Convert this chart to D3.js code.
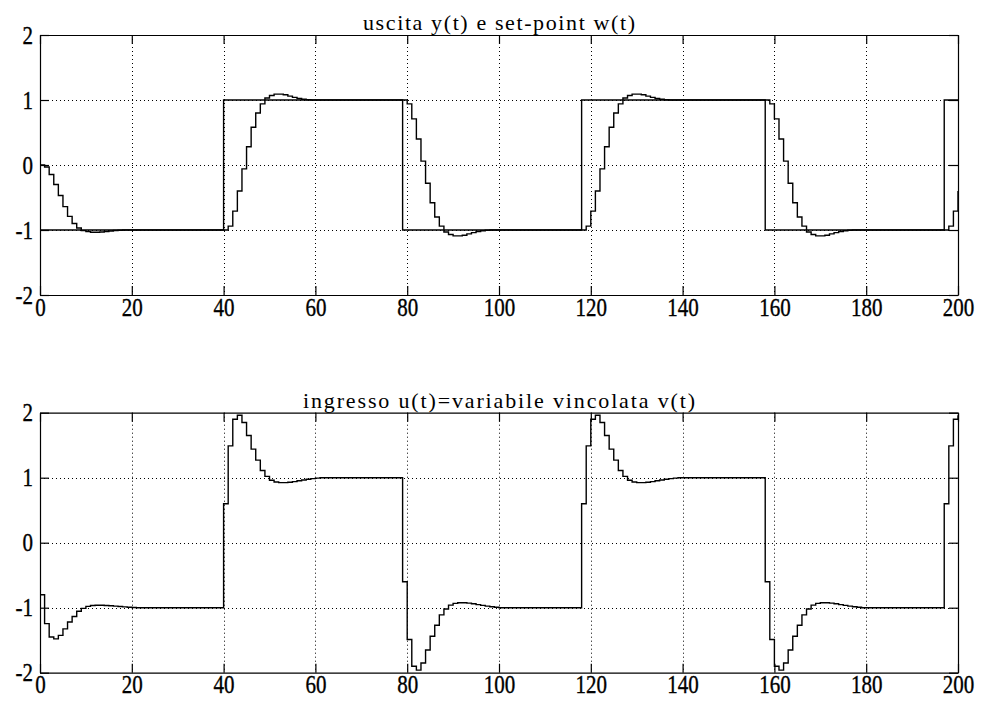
<!DOCTYPE html>
<html>
<head>
<meta charset="utf-8">
<script src="https://cdn.jsdelivr.net/npm/d3@7"></script>
<style>
body { margin: 0; background: #fff; }
</style>
</head>
<body>
<svg width="981" height="702"></svg>
<script>
// sample index k = 0..200 (sample time 1)
var time = d3.range(0, 201);

// set-point w(t)
var setPoint = [
 -1,-1,-1,-1,-1,-1,-1,-1,-1,-1,-1,-1,-1,-1,-1,-1,-1,-1,-1,-1,
 -1,-1,-1,-1,-1,-1,-1,-1,-1,-1,-1,-1,-1,-1,-1,-1,-1,-1,-1,-1,
 1,1,1,1,1,1,1,1,1,1,1,1,1,1,1,1,1,1,1,1,
 1,1,1,1,1,1,1,1,1,1,1,1,1,1,1,1,1,1,1,
 -1,-1,-1,-1,-1,-1,-1,-1,-1,-1,-1,-1,-1,-1,-1,-1,-1,-1,-1,-1,
 -1,-1,-1,-1,-1,-1,-1,-1,-1,-1,-1,-1,-1,-1,-1,-1,-1,-1,-1,
 1,1,1,1,1,1,1,1,1,1,1,1,1,1,1,1,1,1,1,1,
 1,1,1,1,1,1,1,1,1,1,1,1,1,1,1,1,1,1,1,1,
 -1,-1,-1,-1,-1,-1,-1,-1,-1,-1,-1,-1,-1,-1,-1,-1,-1,-1,-1,-1,
 -1,-1,-1,-1,-1,-1,-1,-1,-1,-1,-1,-1,-1,-1,-1,-1,-1,-1,-1,
 1,1,1,1
];

// uscita y(t)
var output = [
 0,-0.03,-0.145,-0.3,-0.47,-0.64,-0.79,-0.9,-0.97,-1.01,-1.025,-1.035,-1.035,-1.03,-1.022,-1.015,-1.008,-1.004,-1.001,-1,
 -1,-1,-1,-1,-1,-1,-1,-1,-1,-1,-1,-1,-1,-1,-1,-1,-1,-1,-1,-1,
 -1,-0.94,-0.71,-0.4,-0.06,0.28,0.58,0.8,0.94,1.03,1.07,1.09,1.09,1.08,1.06,1.04,1.024,1.012,1.004,
 1,1,1,1,1,1,1,1,1,1,1,1,1,1,1,1,1,1,1,1,
 1,0.94,0.71,0.4,0.06,-0.28,-0.58,-0.8,-0.94,-1.03,-1.07,-1.09,-1.09,-1.08,-1.06,-1.04,-1.024,-1.012,-1.004,
 -1,-1,-1,-1,-1,-1,-1,-1,-1,-1,-1,-1,-1,-1,-1,-1,-1,-1,-1,-1,
 -1,-0.94,-0.71,-0.4,-0.06,0.28,0.58,0.8,0.94,1.03,1.07,1.09,1.09,1.08,1.06,1.04,1.024,1.012,1.004,
 1,1,1,1,1,1,1,1,1,1,1,1,1,1,1,1,1,1,1,1,1,
 1,0.94,0.71,0.4,0.06,-0.28,-0.58,-0.8,-0.94,-1.03,-1.07,-1.09,-1.09,-1.08,-1.06,-1.04,-1.024,-1.012,-1.004,
 -1,-1,-1,-1,-1,-1,-1,-1,-1,-1,-1,-1,-1,-1,-1,-1,-1,-1,-1,-1,
 -1,-0.94,-0.71,-0.4
];

// ingresso u(t)
var input = [
 -0.8,-1.245,-1.45,-1.48,-1.425,-1.325,-1.22,-1.135,-1.055,-1.01,-0.98,-0.967,-0.962,-0.962,-0.965,-0.97,-0.976,-0.982,-0.988,-0.993,-0.997,
 -1,-1,-1,-1,-1,-1,-1,-1,-1,-1,-1,-1,-1,-1,-1,-1,-1,-1,-1,
 0.6,1.49,1.9,1.96,1.85,1.65,1.44,1.27,1.11,1.02,0.96,0.934,0.924,0.924,0.93,0.94,0.952,0.964,0.976,0.986,0.994,
 1,1,1,1,1,1,1,1,1,1,1,1,1,1,1,1,1,1,
 -0.6,-1.49,-1.9,-1.96,-1.85,-1.65,-1.44,-1.27,-1.11,-1.02,-0.96,-0.934,-0.924,-0.924,-0.93,-0.94,-0.952,-0.964,-0.976,-0.986,-0.994,
 -1,-1,-1,-1,-1,-1,-1,-1,-1,-1,-1,-1,-1,-1,-1,-1,-1,-1,
 0.6,1.49,1.9,1.96,1.85,1.65,1.44,1.27,1.11,1.02,0.96,0.934,0.924,0.924,0.93,0.94,0.952,0.964,0.976,0.986,0.994,
 1,1,1,1,1,1,1,1,1,1,1,1,1,1,1,1,1,1,1,
 -0.6,-1.49,-1.9,-1.96,-1.85,-1.65,-1.44,-1.27,-1.11,-1.02,-0.96,-0.934,-0.924,-0.924,-0.93,-0.94,-0.952,-0.964,-0.976,-0.986,-0.994,
 -1,-1,-1,-1,-1,-1,-1,-1,-1,-1,-1,-1,-1,-1,-1,-1,-1,-1,
 0.6,1.49,1.9,1.96
];

var titles = ["uscita y(t) e set-point w(t)", "ingresso u(t)=variabile vincolata v(t)"];
var xTicks = [0, 20, 40, 60, 80, 100, 120, 140, 160, 180, 200];
var yTicks = [-2, -1, 0, 1, 2];

var serif = "Liberation Serif, Times New Roman, serif";
var svg = d3.select("svg");

var x = d3.scaleLinear().domain([0, 200]).range([40, 958]);

var panels = [
	{title: titles[0], top: 35, bottom: 295, titleY: 30, titleW: 272, series: [setPoint, output]},
	{title: titles[1], top: 412.7, bottom: 672.7, titleY: 407.5, titleW: 392, series: [input]}
];

panels.forEach(function(p) {
	var y = d3.scaleLinear().domain([-2, 2]).range([p.bottom, p.top]);
	var g = svg.append("g");

	// dotted grid
	var grid = g.append("g")
		.attr("stroke", "#000")
		.attr("stroke-width", 1)
		.attr("stroke-dasharray", "1,3");
	grid.selectAll("line.vx")
		.data(xTicks.slice(1, -1))
		.enter().append("line")
		.attr("x1", function(d) { return Math.round(x(d)) + 0.5; })
		.attr("x2", function(d) { return Math.round(x(d)) + 0.5; })
		.attr("y1", p.top)
		.attr("y2", p.bottom);
	grid.selectAll("line.hy")
		.data(yTicks.slice(1, -1))
		.enter().append("line")
		.attr("y1", function(d) { return Math.round(y(d)) + 0.5; })
		.attr("y2", function(d) { return Math.round(y(d)) + 0.5; })
		.attr("x1", x(0))
		.attr("x2", x(200));

	// stairs
	var line = d3.line()
		.x(function(d, i) { return x(time[i]); })
		.y(function(d) { return y(d); })
		.curve(d3.curveStepAfter);

	p.series.forEach(function(s) {
		g.append("path")
			.datum(s)
			.attr("fill", "none")
			.attr("stroke", "#000")
			.attr("stroke-width", 1.4)
			.attr("d", line);
	});

	// axes, ticks pointing inward like matlab
	var fmt = function(d) { return String(d); };
	var axes = [
		g.append("g")
			.attr("transform", "translate(" + x(0) + ",0)")
			.call(d3.axisLeft(y).tickValues(yTicks).tickSizeInner(-9).tickSizeOuter(0).tickPadding(7).tickFormat(fmt)),
		g.append("g")
			.attr("transform", "translate(" + x(200) + ",0)")
			.call(d3.axisRight(y).tickValues(yTicks).tickSizeInner(-9).tickSizeOuter(0).tickFormat("")),
		g.append("g")
			.attr("transform", "translate(0," + p.bottom + ")")
			.call(d3.axisBottom(x).tickValues(xTicks).tickSizeInner(-9).tickSizeOuter(0).tickPadding(2).tickFormat(fmt)),
		g.append("g")
			.attr("transform", "translate(0," + p.top + ")")
			.call(d3.axisTop(x).tickValues(xTicks).tickSizeInner(-9).tickSizeOuter(0).tickFormat(""))
	];
	axes.forEach(function(a) {
		a.attr("font-family", serif).attr("font-size", 21);
		a.selectAll(".domain, .tick line").attr("stroke", "#000").attr("stroke-width", 1.2);
		// the reference glyphs are taller and heavier than Times
		a.selectAll(".tick text")
			.attr("fill", "#000")
			.attr("stroke", "#000")
			.attr("stroke-width", 0.3)
			.attr("transform", "scale(1,1.22)");
	});

	g.append("text")
		.attr("x", x(100))
		.attr("y", p.titleY)
		.attr("text-anchor", "middle")
		.attr("font-family", serif)
		.attr("font-size", 22)
		.attr("textLength", p.titleW)
		.attr("lengthAdjust", "spacing")
		.attr("fill", "#000")
		.text(p.title);
});
</script>
</body>
</html>
